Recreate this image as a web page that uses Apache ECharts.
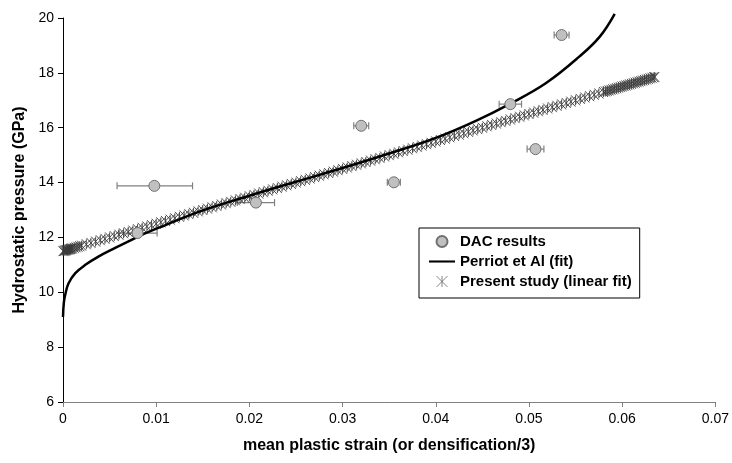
<!DOCTYPE html>
<html><head><meta charset="utf-8">
<script src="https://cdn.jsdelivr.net/npm/echarts@6/dist/echarts.min.js"></script>
<style>html,body{margin:0;padding:0;background:#fff}#c{width:732px;height:463px}</style>
</head><body><div id="c"></div>
<script>
// DAC results (x, y) with horizontal error bar limits
const dacX = [0.0080, 0.0098, 0.0207, 0.0320, 0.0355, 0.0507, 0.0535, 0.0480];
const dacY = [12.16, 13.88, 13.27, 16.07, 14.01, 15.22, 19.38, 16.86];
const errLow = [0.0060, 0.0058, 0.0187, 0.0312, 0.0348, 0.0498, 0.0527, 0.0468];
const errHigh = [0.0101, 0.0139, 0.0227, 0.0328, 0.0362, 0.0516, 0.0543, 0.0492];

// Perriot et Al (fit) curve
const perriot = [[0,9.1],[0.0001,9.65],[0.0003,10.0],[0.0006,10.33],[0.0013,10.69],[0.0024,11.0],[0.0038,11.3],[0.0055,11.6],[0.0067,11.8],[0.0083,12.07],[0.011,12.45],[0.0147,12.95],[0.02,13.52],[0.025,14.03],[0.03,14.53],[0.035,15.06],[0.04,15.63],[0.0443,16.25],[0.048,16.88],[0.0518,17.62],[0.0554,18.59],[0.0576,19.32],[0.0592,20.15]];

// Present study (linear fit) markers
const present = [
[0,11.5],[0.0001,11.51],[0.0002,11.52],[0.0003,11.53],[0.0004,11.54],[0.0005,11.55],[0.0006,11.56],[0.0007,11.57],[0.0008,11.58],[0.0009,11.59],[0.001,11.6],[0.0012,11.62],[0.0014,11.64],[0.0016,11.66],[0.0018,11.68],[0.002,11.7],
[0.0025,11.75],[0.003,11.8],[0.0035,11.85],[0.004,11.9],[0.0045,11.95],[0.005,12],[0.0055,12.05],[0.006,12.1],[0.0065,12.15],[0.007,12.2],[0.0075,12.25],[0.008,12.3],[0.0085,12.35],[0.009,12.4],[0.0095,12.45],[0.01,12.5],
[0.0105,12.55],[0.011,12.6],[0.0115,12.65],[0.012,12.7],[0.0125,12.75],[0.013,12.8],[0.0135,12.85],[0.014,12.9],[0.0145,12.95],[0.015,13],[0.0155,13.05],[0.016,13.1],[0.0165,13.15],[0.017,13.2],[0.0175,13.25],[0.018,13.3],[0.0185,13.35],[0.019,13.4],[0.0195,13.45],[0.02,13.5],
[0.0205,13.55],[0.021,13.6],[0.0215,13.65],[0.022,13.7],[0.0225,13.75],[0.023,13.8],[0.0235,13.85],[0.024,13.9],[0.0245,13.95],[0.025,14],[0.0255,14.05],[0.026,14.1],[0.0265,14.15],[0.027,14.2],[0.0275,14.25],[0.028,14.3],[0.0285,14.35],[0.029,14.4],[0.0295,14.45],[0.03,14.5],
[0.0305,14.55],[0.031,14.6],[0.0315,14.65],[0.032,14.7],[0.0325,14.75],[0.033,14.8],[0.0335,14.85],[0.034,14.9],[0.0345,14.95],[0.035,15],[0.0355,15.05],[0.036,15.1],[0.0365,15.15],[0.037,15.2],[0.0375,15.25],[0.038,15.3],[0.0385,15.35],[0.039,15.4],[0.0395,15.45],[0.04,15.5],
[0.0405,15.55],[0.041,15.6],[0.0415,15.65],[0.042,15.7],[0.0425,15.75],[0.043,15.8],[0.0435,15.85],[0.044,15.9],[0.0445,15.95],[0.045,16],[0.0455,16.05],[0.046,16.1],[0.0465,16.15],[0.047,16.2],[0.0475,16.25],[0.048,16.3],[0.0485,16.35],[0.049,16.4],[0.0495,16.45],[0.05,16.5],
[0.0505,16.55],[0.051,16.6],[0.0515,16.65],[0.052,16.7],[0.0525,16.75],[0.053,16.8],[0.0535,16.85],[0.054,16.9],[0.0545,16.95],[0.055,17],[0.0555,17.05],[0.056,17.1],[0.0565,17.15],[0.057,17.2],[0.0575,17.25],
[0.058,17.3],[0.0582,17.32],[0.0584,17.34],[0.0586,17.36],[0.0588,17.38],[0.059,17.4],[0.0592,17.42],[0.0594,17.44],[0.0596,17.46],[0.0598,17.48],[0.06,17.5],[0.0602,17.52],[0.0604,17.54],[0.0606,17.56],[0.0608,17.58],[0.061,17.6],[0.0612,17.62],[0.0614,17.64],[0.0616,17.66],[0.0618,17.68],[0.062,17.7],[0.0622,17.72],[0.0624,17.74],[0.0626,17.76],[0.0628,17.78],[0.063,17.8],[0.0632,17.82],[0.0634,17.84],[0.0635,17.85]
];

const xTicks = [0, 0.01, 0.02, 0.03, 0.04, 0.05, 0.06, 0.07];
const yTicks = [6, 8, 10, 12, 14, 16, 18, 20];

const FONT = 'Liberation Sans, Arial, sans-serif';
const ASTER = 'path://M0,0L10,10M10,0L0,10M5,0L5,10';
const LINE_ICON = 'path://M0,0L30,0L30,2.4L0,2.4Z';
const ASTER_ICON = 'path://M9,0L21,12M21,0L9,12M15,0L15,12';

const dacData = dacX.map((x, i) => [x, dacY[i]]);
const errData = dacX.map((x, i) => [errLow[i], errHigh[i], dacY[i]]);

const chart = echarts.init(document.getElementById('c'), null, {renderer: 'canvas'});
chart.setOption({
  animation: false,
  backgroundColor: '#fff',
  textStyle: {fontFamily: FONT},
  grid: {left: 63, right: 16, top: 18, bottom: 61},
  xAxis: {
    type: 'value', min: xTicks[0], max: xTicks[xTicks.length - 1], interval: 0.01,
    splitLine: {show: false},
    axisLine: {lineStyle: {color: '#808080', width: 1}},
    axisTick: {show: true, length: 5, lineStyle: {color: '#808080'}},
    axisLabel: {color: '#000', fontSize: 14, fontFamily: FONT, margin: 10, formatter: v => String(+v.toFixed(2))},
    name: 'mean plastic strain (or densification/3)',
    nameLocation: 'middle', nameGap: 36,
    nameTextStyle: {color: '#000', fontSize: 16, fontWeight: 'bold', fontFamily: FONT}
  },
  yAxis: {
    type: 'value', min: yTicks[0], max: yTicks[yTicks.length - 1], interval: 2,
    splitLine: {show: false},
    axisLine: {show: true, lineStyle: {color: '#000', width: 1}},
    axisTick: {show: true, length: 5, lineStyle: {color: '#000'}},
    axisLabel: {color: '#000', fontSize: 14, fontFamily: FONT, margin: 9},
    name: 'Hydrostatic pressure (GPa)',
    nameLocation: 'middle', nameGap: 31,
    nameTextStyle: {color: '#000', fontSize: 16, fontWeight: 'bold', fontFamily: FONT}
  },
  legend: {
    orient: 'vertical', left: 419, top: 228,
    width: 222,
    padding: [6, 8, 9, 10],
    borderColor: '#000', borderWidth: 1,
    backgroundColor: '#fff',
    itemGap: 5, itemWidth: 26, itemHeight: 11,
    textStyle: {color: '#000', fontSize: 15, fontWeight: 'bold', fontFamily: FONT},
    data: [
      {name: 'DAC results', icon: 'circle'},
      {name: 'Perriot et Al (fit)', icon: LINE_ICON, itemStyle: {color: '#000', borderWidth: 0}},
      {name: 'Present study (linear fit)', icon: ASTER_ICON, itemStyle: {color: 'rgba(0,0,0,0)', borderColor: '#666', borderWidth: 0.8}}
    ]
  },
  series: [
    {
      type: 'custom', name: 'err', z: 1, silent: true,
      data: errData,
      encode: {x: [0, 1], y: 2},
      renderItem: (params, api) => {
        const a = api.coord([api.value(0), api.value(2)]);
        const b = api.coord([api.value(1), api.value(2)]);
        const h = 3.5;
        const st = {stroke: '#808080', lineWidth: 1.2};
        return {type: 'group', children: [
          {type: 'line', shape: {x1: a[0], y1: a[1], x2: b[0], y2: b[1]}, style: st},
          {type: 'line', shape: {x1: a[0], y1: a[1] - h, x2: a[0], y2: a[1] + h}, style: st},
          {type: 'line', shape: {x1: b[0], y1: b[1] - h, x2: b[0], y2: b[1] + h}, style: st}
        ]};
      }
    },
    {
      type: 'scatter', name: 'Present study (linear fit)', z: 2,
      data: present,
      symbol: ASTER, symbolSize: [9, 10],
      itemStyle: {color: 'rgba(0,0,0,0)', borderColor: '#3a3a3a', borderWidth: 0.9, opacity: 1}
    },
    {
      type: 'line', name: 'Perriot et Al (fit)', z: 3,
      data: perriot, smooth: 0.4, showSymbol: false, symbol: 'none', clip: false,
      lineStyle: {color: '#000', width: 2.5},
      itemStyle: {color: '#000'}
    },
    {
      type: 'scatter', name: 'DAC results', z: 4,
      data: dacData,
      symbol: 'circle', symbolSize: 11,
      itemStyle: {color: '#c0c0c0', borderColor: '#707070', borderWidth: 1, opacity: 1}
    }
  ]
});
</script>
</body></html>
